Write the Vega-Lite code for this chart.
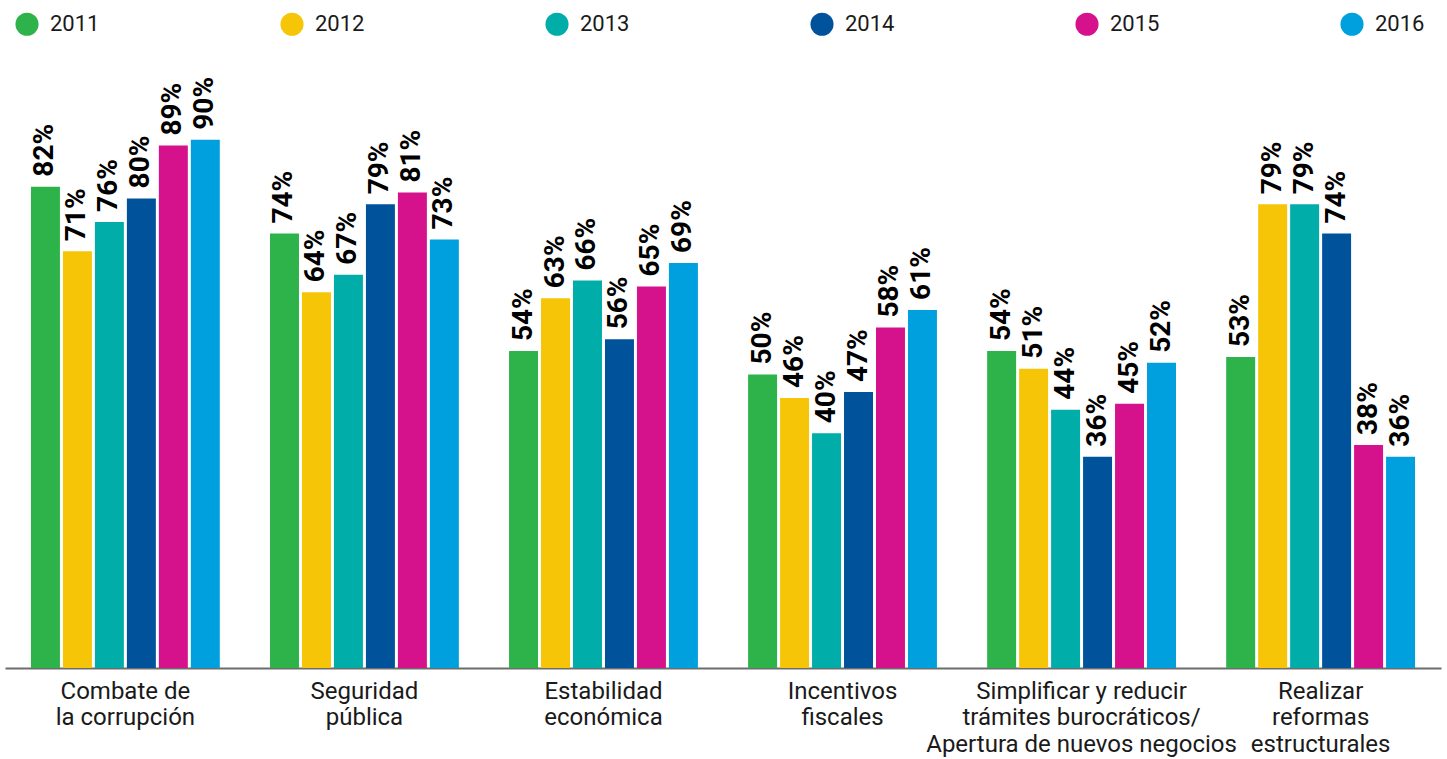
{
  "$schema": "https://vega.github.io/schema/vega-lite/v6.json",
  "width": 1436,
  "height": 587,
  "autosize": {"type": "none"},
  "padding": {"left": 5, "top": 81, "right": 6, "bottom": 91},
  "background": "white",
  "config": {
    "view": {"stroke": null},
    "font": "Roboto"
  },
  "data": {
    "values": [
      {"categoria": "Combate de\nla corrupción", "anio": "2011", "valor": 0.82},
      {"categoria": "Combate de\nla corrupción", "anio": "2012", "valor": 0.71},
      {"categoria": "Combate de\nla corrupción", "anio": "2013", "valor": 0.76},
      {"categoria": "Combate de\nla corrupción", "anio": "2014", "valor": 0.80},
      {"categoria": "Combate de\nla corrupción", "anio": "2015", "valor": 0.89},
      {"categoria": "Combate de\nla corrupción", "anio": "2016", "valor": 0.90},
      {"categoria": "Seguridad\npública", "anio": "2011", "valor": 0.74},
      {"categoria": "Seguridad\npública", "anio": "2012", "valor": 0.64},
      {"categoria": "Seguridad\npública", "anio": "2013", "valor": 0.67},
      {"categoria": "Seguridad\npública", "anio": "2014", "valor": 0.79},
      {"categoria": "Seguridad\npública", "anio": "2015", "valor": 0.81},
      {"categoria": "Seguridad\npública", "anio": "2016", "valor": 0.73},
      {"categoria": "Estabilidad\neconómica", "anio": "2011", "valor": 0.54},
      {"categoria": "Estabilidad\neconómica", "anio": "2012", "valor": 0.63},
      {"categoria": "Estabilidad\neconómica", "anio": "2013", "valor": 0.66},
      {"categoria": "Estabilidad\neconómica", "anio": "2014", "valor": 0.56},
      {"categoria": "Estabilidad\neconómica", "anio": "2015", "valor": 0.65},
      {"categoria": "Estabilidad\neconómica", "anio": "2016", "valor": 0.69},
      {"categoria": "Incentivos\nfiscales", "anio": "2011", "valor": 0.50},
      {"categoria": "Incentivos\nfiscales", "anio": "2012", "valor": 0.46},
      {"categoria": "Incentivos\nfiscales", "anio": "2013", "valor": 0.40},
      {"categoria": "Incentivos\nfiscales", "anio": "2014", "valor": 0.47},
      {"categoria": "Incentivos\nfiscales", "anio": "2015", "valor": 0.58},
      {"categoria": "Incentivos\nfiscales", "anio": "2016", "valor": 0.61},
      {"categoria": "Simplificar y reducir\ntrámites burocráticos/\nApertura de nuevos negocios", "anio": "2011", "valor": 0.54},
      {"categoria": "Simplificar y reducir\ntrámites burocráticos/\nApertura de nuevos negocios", "anio": "2012", "valor": 0.51},
      {"categoria": "Simplificar y reducir\ntrámites burocráticos/\nApertura de nuevos negocios", "anio": "2013", "valor": 0.44},
      {"categoria": "Simplificar y reducir\ntrámites burocráticos/\nApertura de nuevos negocios", "anio": "2014", "valor": 0.36},
      {"categoria": "Simplificar y reducir\ntrámites burocráticos/\nApertura de nuevos negocios", "anio": "2015", "valor": 0.45},
      {"categoria": "Simplificar y reducir\ntrámites burocráticos/\nApertura de nuevos negocios", "anio": "2016", "valor": 0.52},
      {"categoria": "Realizar\nreformas\nestructurales", "anio": "2011", "valor": 0.53},
      {"categoria": "Realizar\nreformas\nestructurales", "anio": "2012", "valor": 0.79},
      {"categoria": "Realizar\nreformas\nestructurales", "anio": "2013", "valor": 0.79},
      {"categoria": "Realizar\nreformas\nestructurales", "anio": "2014", "valor": 0.74},
      {"categoria": "Realizar\nreformas\nestructurales", "anio": "2015", "valor": 0.38},
      {"categoria": "Realizar\nreformas\nestructurales", "anio": "2016", "valor": 0.36}
    ]
  },
  "encoding": {
    "x": {
      "field": "categoria",
      "type": "nominal",
      "sort": null,
      "scale": {"paddingInner": 0.21, "paddingOuter": 0.1086},
      "axis": {
        "title": null,
        "labelAngle": 0,
        "labelExpr": "split(datum.label, '\\n')",
        "labelFont": "Roboto",
        "labelFontSize": 24,
        "labelLineHeight": 26.5,
        "labelColor": "#1a1a1a",
        "labelPadding": 11,
        "labelBaseline": "top",
        "labelLimit": 400,
        "ticks": false,
        "domain": true,
        "domainColor": "#6d6d6d",
        "domainWidth": 2,
        "grid": false
      }
    },
    "xOffset": {
      "field": "anio",
      "type": "nominal",
      "scale": {"paddingInner": 0.094, "paddingOuter": 0}
    },
    "y": {
      "field": "valor",
      "type": "quantitative",
      "scale": {"domain": [0, 1], "nice": false},
      "axis": null
    }
  },
  "layer": [
    {
      "mark": {"type": "bar"},
      "encoding": {
        "color": {
          "field": "anio",
          "type": "nominal",
          "scale": {
            "domain": ["2011", "2012", "2013", "2014", "2015", "2016"],
            "range": ["#2db34a", "#f7c508", "#00ada8", "#00529b", "#d6118c", "#009fdd"]
          },
          "legend": {
            "title": null,
            "orient": "none",
            "legendX": 10,
            "legendY": -69,
            "direction": "horizontal",
            "columns": 6,
            "columnPadding": 180,
            "padding": 0,
            "symbolType": "circle",
            "symbolSize": 531,
            "symbolStrokeWidth": 0,
            "symbolOpacity": 1,
            "labelFont": "Roboto",
            "labelFontSize": 22,
            "labelColor": "#1a1a1a",
            "labelOffset": 11,
            "labelLimit": 200
          }
        }
      }
    },
    {
      "mark": {
        "type": "text",
        "angle": 270,
        "align": "left",
        "baseline": "middle",
        "dx": 10,
        "font": "Roboto",
        "fontSize": 28,
        "fontWeight": "bold",
        "color": "#000000"
      },
      "encoding": {
        "text": {"field": "valor", "type": "quantitative", "format": ".0%"}
      }
    }
  ]
}
